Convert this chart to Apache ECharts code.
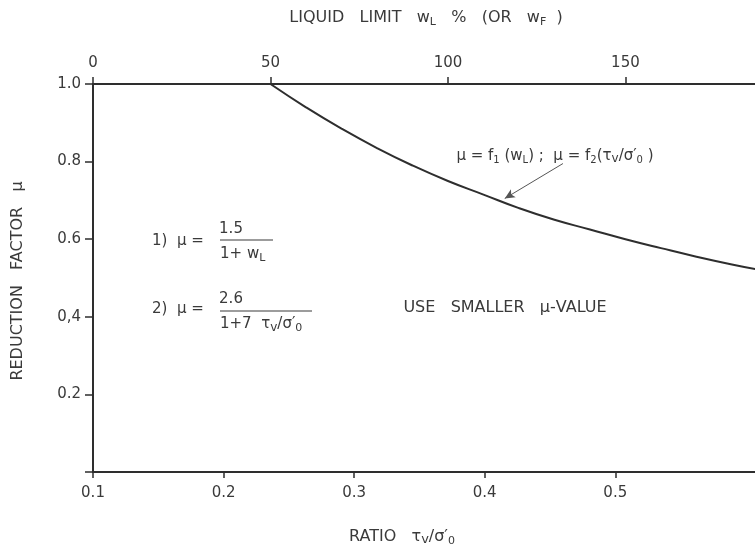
<!DOCTYPE html>
<html>
<head>
<meta charset="utf-8">
<script src="https://cdn.jsdelivr.net/npm/echarts@6/dist/echarts.min.js"></script>
<style>
html,body{margin:0;padding:0;background:#fff;}
#chart{width:755px;height:547px;}
</style>
</head>
<body>
<div id="chart"></div>
<script>
// Curve (against the top axis: liquid limit wL %)
const liquidLimit = [50, 60, 70, 80, 90, 100, 110, 120, 130, 140, 150, 160, 170, 180, 190];
const reductionFactor = [1.0, 0.94, 0.885, 0.835, 0.79, 0.75, 0.715, 0.68, 0.65, 0.625, 0.60, 0.577, 0.555, 0.535, 0.517];
// Arrow pointing at the curve (wL, mu)
const arrowFrom = [132.4, 0.795];
const arrowTo = [116, 0.705];
// Tick values and labels
const yTicks = [0, 0.2, 0.4, 0.6, 0.8, 1.0];
const yTickLabels = ['', '0.2', '0,4', '0.6', '0.8', '1.0'];
const topTicks = [0, 50, 100, 150];
const topTickLabels = ['0', '50', '100', '150'];
const bottomTicks = [0.1, 0.2, 0.3, 0.4, 0.5];
const bottomTickLabels = ['0.1', '0.2', '0.3', '0.4', '0.5'];

const FONT = '"DejaVu Sans", sans-serif';
const TXT = '#3a3a3a';
const LINE = '#2e2e2e';

const chart = echarts.init(document.getElementById('chart'), null, {renderer: 'canvas'});

const labelStyle = {color: TXT, fontFamily: FONT, fontSize: 15};
function rich(main, sub, mid) {
  return {
    t: {fontFamily: FONT, fontSize: main, fill: TXT, color: TXT},
    u: {fontFamily: FONT, fontSize: mid, fill: TXT, color: TXT, verticalAlign: 'bottom', padding: [4, 0, 0, 0]},
    s: {fontFamily: FONT, fontSize: sub, fill: TXT, color: TXT, verticalAlign: 'bottom', padding: [8, 0, 0, 0]}
  };
}
function lookup(ticks, labels) {
  return function (v) {
    for (let i = 0; i < ticks.length; i++) {
      if (Math.abs(ticks[i] - v) < 1e-6) return labels[i];
    }
    return '';
  };
}

const option = {
  backgroundColor: '#fff',
  animation: false,
  grid: {left: 93, top: 84, right: 0, bottom: 75, containLabel: false},
  xAxis: [
    {
      type: 'value', position: 'bottom', min: 0.1, max: 0.607, interval: 0.1,
      axisLine: {show: true, lineStyle: {color: LINE, width: 2}},
      axisTick: {show: true, inside: false, length: 6, customValues: bottomTicks, lineStyle: {color: LINE, width: 1.5}},
      splitLine: {show: false},
      axisLabel: Object.assign({margin: 14, customValues: bottomTicks, formatter: lookup(bottomTicks, bottomTickLabels)}, labelStyle)
    },
    {
      type: 'value', position: 'top', min: 0, max: 186.5, interval: 50,
      axisLine: {show: true, lineStyle: {color: LINE, width: 2}},
      axisTick: {show: true, inside: false, length: 7, customValues: topTicks, lineStyle: {color: LINE, width: 1.5}},
      splitLine: {show: false},
      axisLabel: Object.assign({margin: 13, customValues: topTicks, formatter: lookup(topTicks, topTickLabels)}, labelStyle)
    }
  ],
  yAxis: {
    type: 'value', min: 0, max: 1.0, interval: 0.2, position: 'left',
    axisLine: {show: true, lineStyle: {color: LINE, width: 2}},
    axisTick: {show: true, inside: false, length: 8, customValues: yTicks, lineStyle: {color: LINE, width: 1.5}},
    splitLine: {show: false},
    axisLabel: Object.assign({margin: 12, customValues: yTicks, formatter: lookup(yTicks, yTickLabels)}, labelStyle)
  },
  series: [
    {
      type: 'line', xAxisIndex: 1, yAxisIndex: 0,
      data: liquidLimit.map((x, i) => [x, reductionFactor[i]]),
      smooth: true, showSymbol: false, clip: true,
      lineStyle: {color: LINE, width: 2},
      markLine: {
        silent: true, symbol: ['none', 'arrow'], symbolSize: [7, 10],
        label: {show: false},
        lineStyle: {color: '#555', width: 1, type: 'solid'},
        data: [[{coord: arrowFrom}, {coord: arrowTo}]]
      }
    }
  ],
  graphic: [
    {type: 'text', x: 426, y: 18, style: {
      text: '{t|LIQUID   LIMIT   w}{s|L}{t|   %   (OR   w}{s|F}{t|  )}',
      align: 'center', verticalAlign: 'middle', rich: rich(16, 11, 12)
    }},
    {type: 'text', x: 402, y: 537, style: {
      text: '{t|RATIO   τ}{u|v}{t|/σ′}{s|0}',
      align: 'center', verticalAlign: 'middle', rich: rich(16, 11, 13)
    }},
    {type: 'text', x: 18, y: 281, rotation: Math.PI / 2, style: {
      text: 'REDUCTION   FACTOR   μ', align: 'center', verticalAlign: 'middle',
      font: '16px ' + FONT, fill: TXT
    }},
    // formula 1
    {type: 'text', x: 152, y: 241, style: {text: '1)  μ =', align: 'left', verticalAlign: 'middle', font: '15px ' + FONT, fill: TXT}},
    {type: 'text', x: 231, y: 229, style: {text: '1.5', align: 'center', verticalAlign: 'middle', font: '15px ' + FONT, fill: TXT}},
    {type: 'line', shape: {x1: 220, y1: 240, x2: 273, y2: 240}, style: {stroke: TXT, lineWidth: 1.2}},
    {type: 'text', x: 220, y: 254, style: {
      text: '{t|1+ w}{s|L}', align: 'left', verticalAlign: 'middle', rich: rich(15, 11, 12)
    }},
    // formula 2
    {type: 'text', x: 152, y: 309, style: {text: '2)  μ =', align: 'left', verticalAlign: 'middle', font: '15px ' + FONT, fill: TXT}},
    {type: 'text', x: 231, y: 299, style: {text: '2.6', align: 'center', verticalAlign: 'middle', font: '15px ' + FONT, fill: TXT}},
    {type: 'line', shape: {x1: 220, y1: 311, x2: 312, y2: 311}, style: {stroke: TXT, lineWidth: 1.2}},
    {type: 'text', x: 220, y: 324, style: {
      text: '{t|1+7  τ}{u|v}{t|/σ′}{s|0}', align: 'left', verticalAlign: 'middle', rich: rich(15, 11, 12)
    }},
    // use smaller
    {type: 'text', x: 505, y: 308, style: {text: 'USE   SMALLER   μ-VALUE', align: 'center', verticalAlign: 'middle', font: '16px ' + FONT, fill: TXT}},
    // curve label
    {type: 'text', x: 555, y: 156, style: {
      text: '{t|μ = f}{s|1}{t| (w}{s|L}{t|) ;  μ = f}{s|2}{t|(τ}{u|v}{t|/σ′}{s|0}{t| )}',
      align: 'center', verticalAlign: 'middle', rich: rich(15, 10, 12)
    }}
  ]
};
chart.setOption(option);
</script>
</body>
</html>
